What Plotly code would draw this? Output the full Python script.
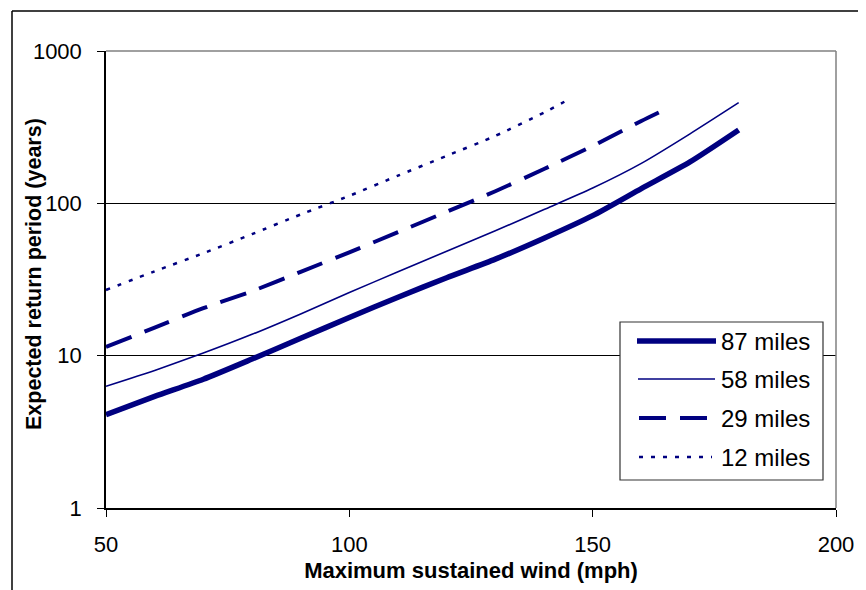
import plotly.graph_objects as go

# ---------------- data ----------------
wind_87 = [50, 60, 70, 80, 90, 100, 110, 120, 130, 140, 150, 160, 170, 180]
period_87 = [4.1, 5.4, 7.0, 9.5, 13.0, 17.8, 24.2, 32.5, 43, 59, 83, 125, 187, 303]

wind_58 = [50, 60, 70, 80, 90, 100, 110, 120, 130, 140, 150, 160, 170, 180]
period_58 = [6.3, 8.0, 10.4, 13.8, 18.8, 26, 35.5, 48.5, 66, 91, 126, 183, 286, 458]

wind_29 = [50, 60, 70, 80, 90, 100, 110, 120, 130, 140, 150, 160, 165]
period_29 = [11.4, 15.3, 20.5, 26.5, 35.5, 47.7, 64.7, 88, 120, 168, 238, 347, 415]

wind_12 = [50, 60, 70, 80, 90, 100, 110, 120, 130, 140, 145]
period_12 = [27, 35.8, 47, 62.8, 84.5, 112, 152, 205, 277, 394, 480]

series_names = ["87 miles", "58 miles", "29 miles", "12 miles"]
x_ticks = [50, 100, 150, 200]
y_ticks = [1, 10, 100, 1000]
y_tick_text = ["1", "10", "100", "1000"]

NAVY = "#000080"
FONT = "Liberation Sans, Arial, sans-serif"

OFF = 8  # page body margin in the browser
W, H = 866 - OFF, 590 - OFF
L, R, T, B = 106 - OFF, 836 - OFF, 51 - OFF, 508 - OFF  # plot area in figure pixels


def fx(p):
    """window pixel -> paper x"""
    return (p - OFF - L) / (R - L)


def fy(p):
    """window pixel -> paper y"""
    return (B - (p - OFF)) / (B - T)


styles = [
    dict(width=5.5, dash="solid"),
    dict(width=1.6, dash="solid"),
    dict(width=4, dash="27px,14px"),
    dict(width=2.5, dash="4px,8px"),
]
xs = [wind_87, wind_58, wind_29, wind_12]
ys = [period_87, period_58, period_29, period_12]

fig = go.Figure()
for name, x, y, st in zip(series_names, xs, ys, styles):
    fig.add_trace(go.Scatter(
        x=x, y=y, mode="lines", name=name, showlegend=False,
        line=dict(color=NAVY, width=st["width"], dash=st["dash"], shape="spline", smoothing=0.6),
    ))

shapes = []
# outer chart frame (only top and left are visible)
shapes.append(dict(type="line", xref="paper", yref="paper",
                   x0=fx(12), x1=fx(900), y0=fy(11), y1=fy(11),
                   line=dict(color="black", width=1.5), layer="above"))
shapes.append(dict(type="line", xref="paper", yref="paper",
                   x0=fx(12), x1=fx(12), y0=fy(11), y1=fy(620),
                   line=dict(color="black", width=1.5), layer="above"))
# plot area border: grey top and right
shapes.append(dict(type="line", xref="paper", yref="paper",
                   x0=0, x1=1, y0=1, y1=1,
                   line=dict(color="#808080", width=1.5), layer="above"))
shapes.append(dict(type="line", xref="paper", yref="paper",
                   x0=1, x1=1, y0=0, y1=1,
                   line=dict(color="#808080", width=1.5), layer="above"))

# legend box
lg_x0, lg_x1, lg_y0, lg_y1 = 620, 823, 322, 480
shapes.append(dict(type="rect", xref="paper", yref="paper",
                   x0=fx(lg_x0), x1=fx(lg_x1), y0=fy(lg_y1), y1=fy(lg_y0),
                   line=dict(color="#333333", width=1.2), fillcolor="white", layer="above"))
legend_rows = [341, 379, 418, 457]
sample_x = [(637, 716), (638, 715), (639, 707), (639, 712)]
annotations = []
for name, st, row, (sx0, sx1) in zip(series_names, styles, legend_rows, sample_x):
    shapes.append(dict(type="line", xref="paper", yref="paper",
                       x0=fx(sx0), x1=fx(sx1), y0=fy(row), y1=fy(row),
                       line=dict(color=NAVY, width=st["width"], dash=st["dash"]), layer="above"))
    annotations.append(dict(xref="paper", yref="paper", x=fx(719), y=fy(row),
                            xanchor="left", yanchor="middle", showarrow=False,
                            text=name, font=dict(family=FONT, size=24, color="black")))

# y axis title
annotations.append(dict(xref="paper", yref="paper", x=fx(34), y=fy(274),
                        xanchor="center", yanchor="middle", showarrow=False, textangle=-90,
                        text="<b>Expected return period (years)</b>",
                        font=dict(family=FONT, size=21.5, color="black")))

fig.update_layout(
    width=W, height=H,
    margin=dict(l=L, r=W - R, t=T, b=H - B, pad=0),
    paper_bgcolor="white", plot_bgcolor="white",
    font=dict(family=FONT, size=22, color="black"),
    showlegend=False,
    shapes=shapes,
    annotations=annotations,
    xaxis=dict(
        range=[50, 200], tickvals=x_ticks, ticks="outside", ticklen=7, tickwidth=1.2,
        tickcolor="black", showline=True, linecolor="black", linewidth=1.5,
        showgrid=False, zeroline=False, ticklabelstandoff=9,
        tickfont=dict(family=FONT, size=22, color="black"),
        title=dict(text="<b>Maximum sustained wind (mph)</b>", standoff=6,
                   font=dict(family=FONT, size=22, color="black")),
        automargin=False,
    ),
    yaxis=dict(
        type="log", range=[0, 3], tickvals=y_ticks, ticktext=y_tick_text,
        ticks="outside", ticklen=7, tickwidth=1.2, tickcolor="black",
        showline=True, linecolor="black", linewidth=1.5,
        showgrid=True, gridcolor="black", gridwidth=1, zeroline=False,
        ticklabelstandoff=11,
        tickfont=dict(family=FONT, size=22, color="black"),
        automargin=False,
    ),
)

fig.write_html("out.html")
